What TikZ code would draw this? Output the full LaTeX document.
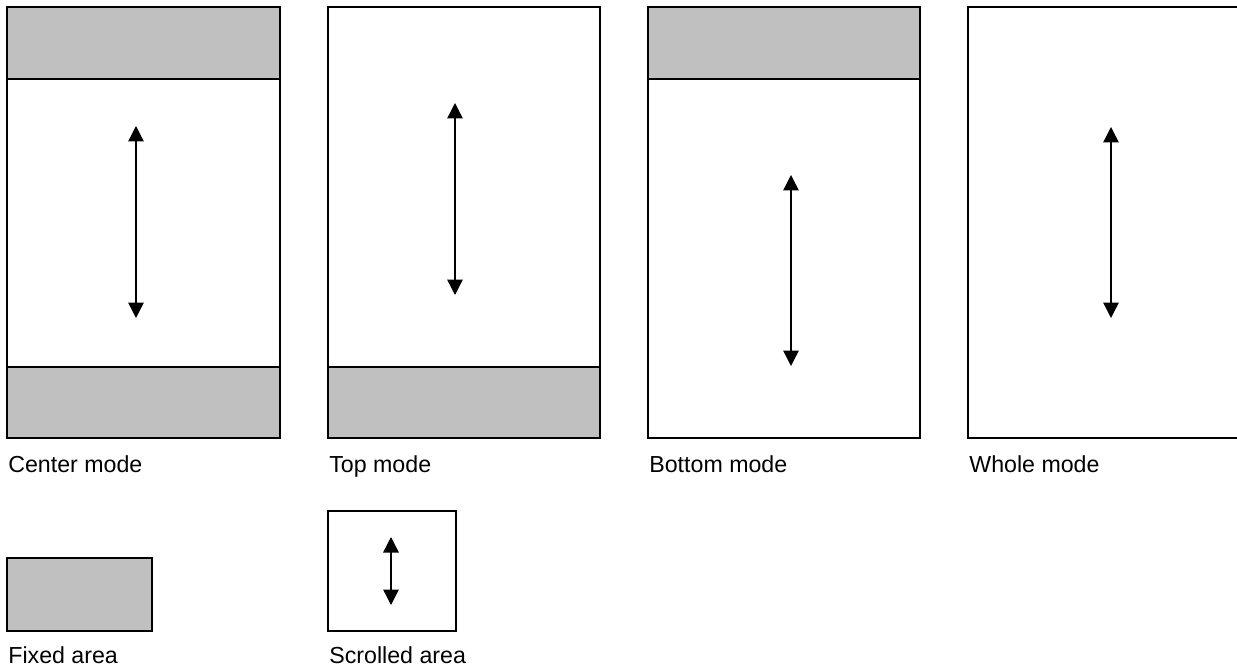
\documentclass[tikz,border=0pt]{standalone}
\usepackage{fontspec}
\setmainfont{Liberation Sans}
\usetikzlibrary{arrows.meta}
\definecolor{fixgray}{RGB}{192,192,192}
\tikzset{
    framebox/.style = {line width=1.1pt,draw=black},
    fixband/.style = {line width=1.1pt,draw=black,fill=fixgray},
    scrollarrow/.style = {line width=0.8pt,black,{Triangle[width=0.31cm,length=0.31cm]}-{Triangle[width=0.31cm,length=0.31cm]}},
    modelabel/.style = {anchor=base west,inner sep=0pt,font=\fontsize{13.2}{16}\selectfont}
}
\begin{document}
\begin{tikzpicture}[x=0.02cm,y=-0.02cm]
\useasboundingbox (0,0) rectangle (1237,669);
%
% center mode
\filldraw[fixband] (7,7) rectangle (280,79);
\filldraw[fixband] (7,367) rectangle (280,438);
\draw[framebox] (7,7) rectangle (280,438);
\coordinate (c1t) at (136,126);
\coordinate (c1b) at (136,318);
\draw[scrollarrow] (c1t) -- (c1b);
\node[modelabel] at (8,472) (l1) {Center mode};
%
% top mode
\filldraw[fixband] (328,367) rectangle (600,438);
\draw[framebox] (328,7) rectangle (600,438);
\coordinate (c2t) at (455,103);
\coordinate (c2b) at (455,295);
\draw[scrollarrow] (c2t) -- (c2b);
\node[modelabel] at (329,472) (l2) {Top mode};
%
% bottom mode
\filldraw[fixband] (648,7) rectangle (920,79);
\draw[framebox] (648,7) rectangle (920,438);
\coordinate (c3t) at (791,175);
\coordinate (c3b) at (791,366);
\draw[scrollarrow] (c3t) -- (c3b);
\node[modelabel] at (649,472) (l3) {Bottom mode};
%
% whole mode
\draw[framebox] (968,7) rectangle (1242,438);
\coordinate (c4t) at (1111,127);
\coordinate (c4b) at (1111,318);
\draw[scrollarrow] (c4t) -- (c4b);
\node[modelabel] at (969,472) (l4) {Whole mode};
%
% legend
\filldraw[fixband] (7,558) rectangle (152,631);
\node[modelabel] at (8,663) (l5) {Fixed area};
\draw[framebox] (328,511) rectangle (456,631);
\coordinate (c5t) at (391,537);
\coordinate (c5b) at (391,605);
\draw[scrollarrow] (c5t) -- (c5b);
\node[modelabel] at (329,663) (l6) {Scrolled area};
\end{tikzpicture}
\end{document}
